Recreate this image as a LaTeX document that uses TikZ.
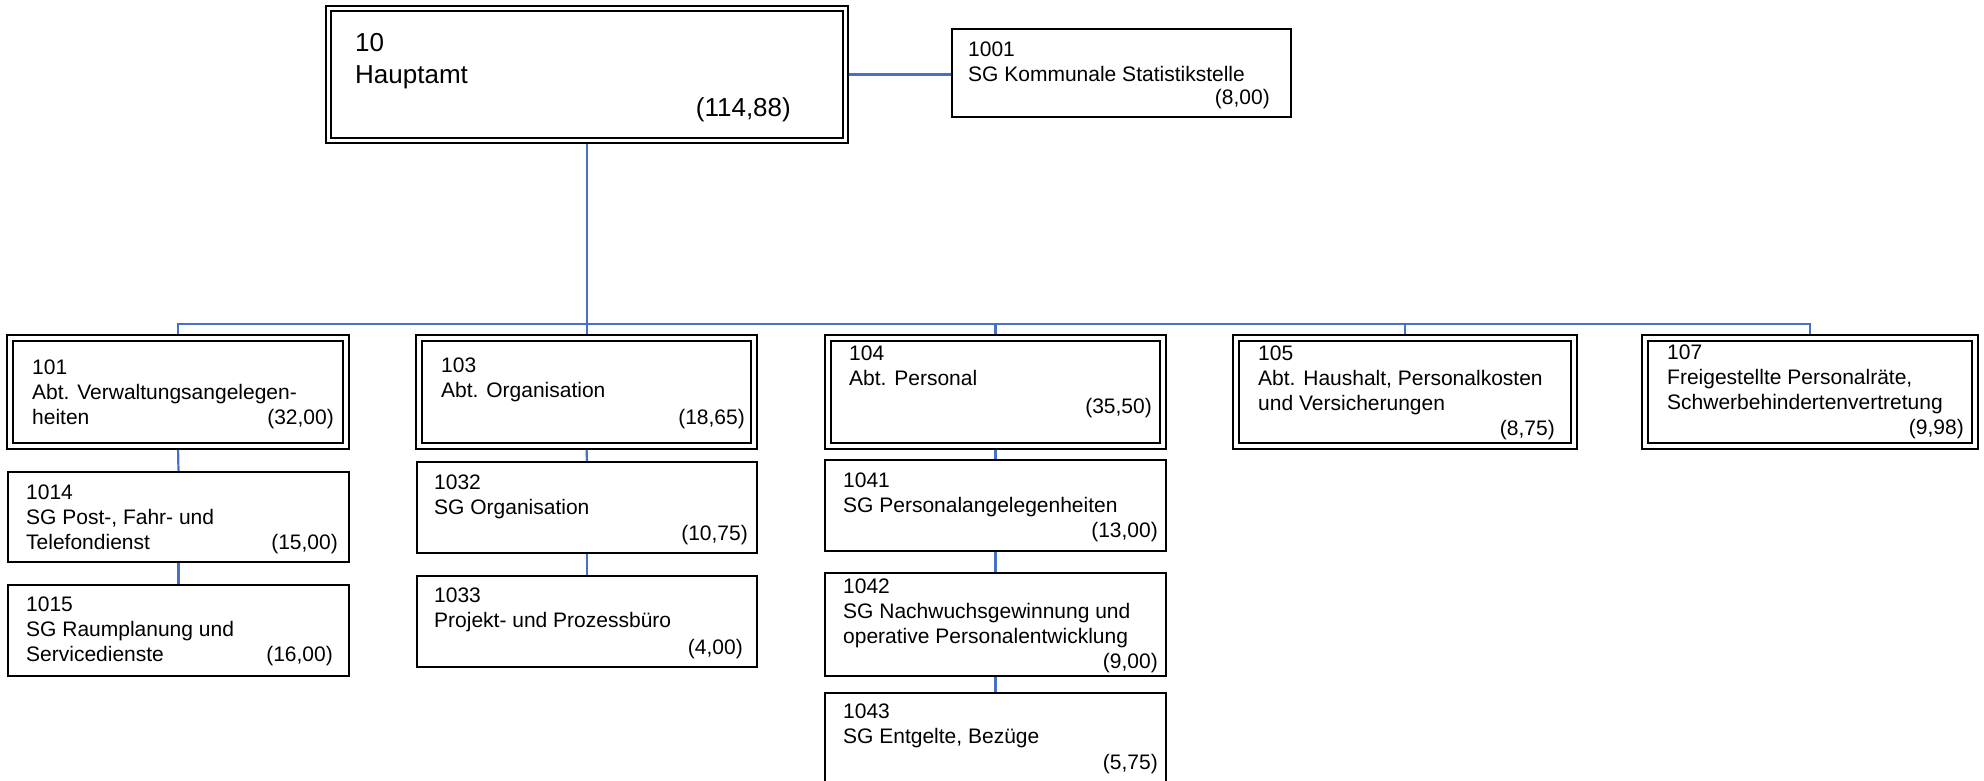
\documentclass[tikz,border=0pt]{standalone}
\usepackage{fontspec}
\setmainfont{Liberation Sans}
\usetikzlibrary{backgrounds}
\definecolor{conblue}{RGB}{68,114,196}
\newcommand\fsn{\fontsize{21pt}{25pt}\selectfont}
\newcommand\fsb{\fontsize{26pt}{32pt}\selectfont}
\newcommand\lines[1]{\begin{tabular}[t]{@{}l@{}}#1\end{tabular}}
\tikzset{
  conn/.style={draw=conblue, line width=2.2pt},
  dbox/.style={draw, line width=2pt, double=white, double distance=3.2pt, fill=white, inner sep=0pt, outer sep=0pt, anchor=north west},
  sbox/.style={draw, line width=2.2pt, fill=white, inner sep=0pt, outer sep=0pt, anchor=north west},
  txt/.style={anchor=base west, inner sep=0pt, font=\fsn},
  amt/.style={anchor=base east, inner sep=0pt, font=\fsn},
  btxt/.style={anchor=base west, inner sep=0pt, font=\fsb},
  bamt/.style={anchor=base east, inner sep=0pt, font=\fsb},
}
\begin{document}
\begin{tikzpicture}[x=1pt,y=-1pt]
\useasboundingbox (0,0) rectangle (1984,781);

% boxes
\path
  node[dbox, minimum width=517pt, minimum height=132pt] (n10) at (328.5,8.5) {}
  node[sbox, minimum width=339pt, minimum height=88pt] (n1001) at (952,29) {}
  node[dbox, minimum width=336pt, minimum height=108pt] (n101) at (10,338) {}
  node[dbox, minimum width=335pt, minimum height=108pt] (n103) at (419,338) {}
  node[dbox, minimum width=335pt, minimum height=108pt] (n104) at (828,338) {}
  node[dbox, minimum width=338pt, minimum height=108pt] (n105) at (1236,338) {}
  node[dbox, minimum width=330pt, minimum height=108pt] (n107) at (1645,338) {}
  node[sbox, minimum width=341pt, minimum height=90pt] (n1014) at (8,472) {}
  node[sbox, minimum width=341pt, minimum height=91pt] (n1015) at (8,585) {}
  node[sbox, minimum width=340pt, minimum height=91pt] (n1032) at (417,462) {}
  node[sbox, minimum width=340pt, minimum height=91pt] (n1033) at (417,576) {}
  node[sbox, minimum width=341pt, minimum height=91pt] (n1041) at (825,460) {}
  node[sbox, minimum width=341pt, minimum height=103pt] (n1042) at (825,573) {}
  node[sbox, minimum width=341pt, minimum height=130pt] (n1043) at (825,693) {};

% connectors, behind the boxes
\begin{pgfonlayer}{background}
\fill[white] (0,0) rectangle (1984,781);
\coordinate (bus) at (0,324);
\draw[conn] (n10.east) -- (n10.east -| n1001.west);
\draw[conn] (n10.south) -- (n10.south |- n103.north);
\draw[conn] (n101.north) -- (n101.north |- bus) -| (n107.north);
\draw[conn] (n104.north) -- (n104.north |- bus);
\draw[conn] (n105.north) -- (n105.north |- bus);
\draw[conn] (n101.south) -- (n1014.north);
\draw[conn] (n1014.south) -- (n1015.north);
\draw[conn] (n103.south) -- (n1032.north);
\draw[conn] (n1032.south) -- (n1033.north);
\draw[conn] (n104.south) -- (n1041.north);
\draw[conn] (n1041.south) -- (n1042.north);
\draw[conn] (n1042.south) -- (n1043.north);
\end{pgfonlayer}

% texts
\node[btxt] (t10) at (355,52) {\fsb\lines{10\\Hauptamt}};
\node[bamt] (a10) at (791,117) {(114,88)};

\node[txt] (t1001) at (968,57) {\fsn\lines{1001\\SG Kommunale Statistikstelle}};
\node[amt] (a1001) at (1270,105) {(8,00)};

\node[txt] (t101) at (32,374) {\fsn\lines{101\\Abt. Verwaltungsangelegen-\\heiten}};
\node[amt] (a101) at (334,424) {(32,00)};

\node[txt] (t103) at (441,372) {\fsn\lines{103\\Abt. Organisation}};
\node[amt] (a103) at (745,424) {(18,65)};

\node[txt] (t104) at (849,360) {\fsn\lines{104\\Abt. Personal}};
\node[amt] (a104) at (1152,413) {(35,50)};

\node[txt] (t105) at (1258,360) {\fsn\lines{105\\Abt. Haushalt, Personalkosten\\und Versicherungen}};
\node[amt] (a105) at (1555,435) {(8,75)};

\node[txt] (t107) at (1667,359) {\fsn\lines{107\\Freigestellte Personalräte,\\Schwerbehindertenvertretung}};
\node[amt] (a107) at (1964,434) {(9,98)};

\node[txt] (t1014) at (26,499) {\fsn\lines{1014\\SG Post-, Fahr- und\\Telefondienst}};
\node[amt] (a1014) at (338,549) {(15,00)};

\node[txt] (t1015) at (26,611) {\fsn\lines{1015\\SG Raumplanung und\\Servicedienste}};
\node[amt] (a1015) at (333,661) {(16,00)};

\node[txt] (t1032) at (434,489) {\fsn\lines{1032\\SG Organisation}};
\node[amt] (a1032) at (748,540) {(10,75)};

\node[txt] (t1033) at (434,602) {\fsn\lines{1033\\Projekt- und Prozessbüro}};
\node[amt] (a1033) at (743,654) {(4,00)};

\node[txt] (t1041) at (843,487) {\fsn\lines{1041\\SG Personalangelegenheiten}};
\node[amt] (a1041) at (1158,537) {(13,00)};

\node[txt] (t1042) at (843,593) {\fsn\lines{1042\\SG Nachwuchsgewinnung und\\operative Personalentwicklung}};
\node[amt] (a1042) at (1158,668) {(9,00)};

\node[txt] (t1043) at (843,718) {\fsn\lines{1043\\SG Entgelte, Bezüge}};
\node[amt] (a1043) at (1158,769) {(5,75)};
\end{tikzpicture}
\end{document}
